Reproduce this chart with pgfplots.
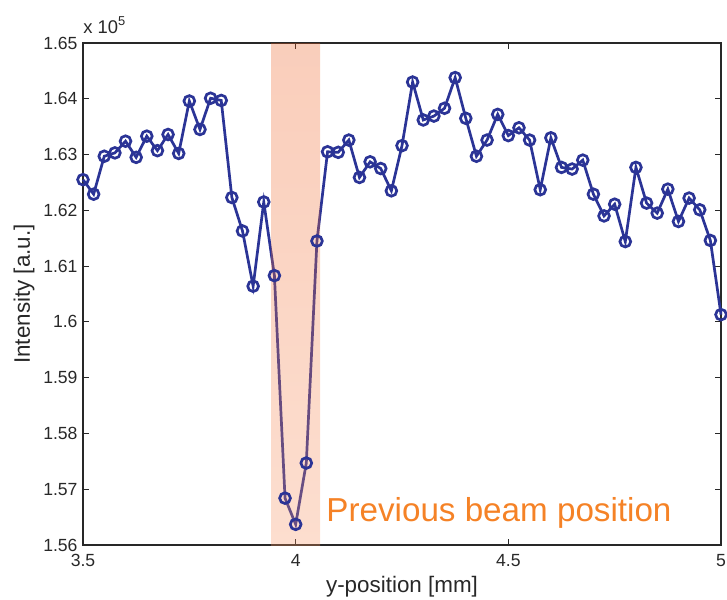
\documentclass[border=0pt]{standalone}
\usepackage{pgfplots}
\pgfplotsset{compat=1.18}
\usepackage{fontspec}
\setmainfont{Liberation Sans}
\definecolor{lineblue}{RGB}{43,52,150}
\definecolor{shadetop}{RGB}{236,92,30}
\definecolor{shadebot}{RGB}{247,146,96}
\definecolor{txtorange}{RGB}{245,130,38}
\definecolor{axgray}{RGB}{40,40,40}
\pgfplotstableread{
x y
3.500 1.6255
3.525 1.6229
3.550 1.6297
3.575 1.6303
3.600 1.6324
3.625 1.6295
3.650 1.6333
3.675 1.6307
3.700 1.6336
3.725 1.6302
3.750 1.6396
3.775 1.6345
3.800 1.6401
3.825 1.6397
3.850 1.6223
3.875 1.6163
3.900 1.6064
3.925 1.6215
3.950 1.6083
3.975 1.5684
4.000 1.5637
4.025 1.5747
4.050 1.6145
4.075 1.6305
4.100 1.6304
4.125 1.6326
4.150 1.6259
4.175 1.6287
4.200 1.6275
4.225 1.6235
4.250 1.6316
4.275 1.6430
4.300 1.6362
4.325 1.6369
4.350 1.6383
4.375 1.6438
4.400 1.6365
4.425 1.6297
4.450 1.6326
4.475 1.6372
4.500 1.6334
4.525 1.6348
4.550 1.6326
4.575 1.6237
4.600 1.6330
4.625 1.6277
4.650 1.6274
4.675 1.6290
4.700 1.6229
4.725 1.6190
4.750 1.6211
4.775 1.6144
4.800 1.6277
4.825 1.6213
4.850 1.6195
4.875 1.6238
4.900 1.6180
4.925 1.6222
4.950 1.6201
4.975 1.6146
5.000 1.6013
}\datatable
\begin{document}
\begin{tikzpicture}
\path[use as bounding box] (0,0) rectangle (363.5pt,299.5pt);
\begin{axis}[
  at={(41.5pt,27pt)}, anchor=south west,
  scale only axis, width=319pt, height=251pt,
  xmin=3.5, xmax=5, ymin=1.56, ymax=1.65,
  xtick={3.5,4,4.5,5},
  ytick={1.56,1.57,1.58,1.59,1.6,1.61,1.62,1.63,1.64,1.65},
  yticklabels={1.56,1.57,1.58,1.59,1.6,1.61,1.62,1.63,1.64,1.65},
  scaled ticks=false,
  tick align=inside, major tick length=3pt,
  axis line style={axgray, line width=0.6pt},
  every tick/.style={axgray, line width=0.5pt},
  /pgf/number format/assume math mode=true,
  ticklabel style={font=\fontsize{8.8}{10}\selectfont, text=axgray},
  xticklabel style={yshift=-1pt},
  yticklabel style={xshift=0.8pt},
  label style={font=\fontsize{11.2}{13}\selectfont, text=axgray},
  xlabel={y-position [mm]},
  ylabel={Intensity [a.u.]},
  xlabel style={yshift=2pt},
  ylabel style={yshift=-2.5pt},
  clip=false,
]
\addplot[lineblue, line width=1.35pt, mark=o, mark size=2.7pt,
  mark options={solid, line width=1.35pt}] table[x=x,y=y] {\datatable};
\path[top color=shadetop, bottom color=shadebot, fill opacity=0.3, draw=none]
  (axis cs:3.9425,1.56) rectangle (axis cs:4.0575,1.65);
\node[anchor=base west, inner sep=0pt, text=txtorange,
  font=\fontsize{16.6}{19}\selectfont] at (axis cs:4.0714,1.5642) {Previous beam position};
\node[anchor=base west, inner sep=0pt, text=axgray,
  font=\fontsize{9.2}{11}\selectfont] at ([yshift=5pt]rel axis cs:0,1) {x 10\textsuperscript{5}};
\end{axis}
\end{tikzpicture}
\end{document}
